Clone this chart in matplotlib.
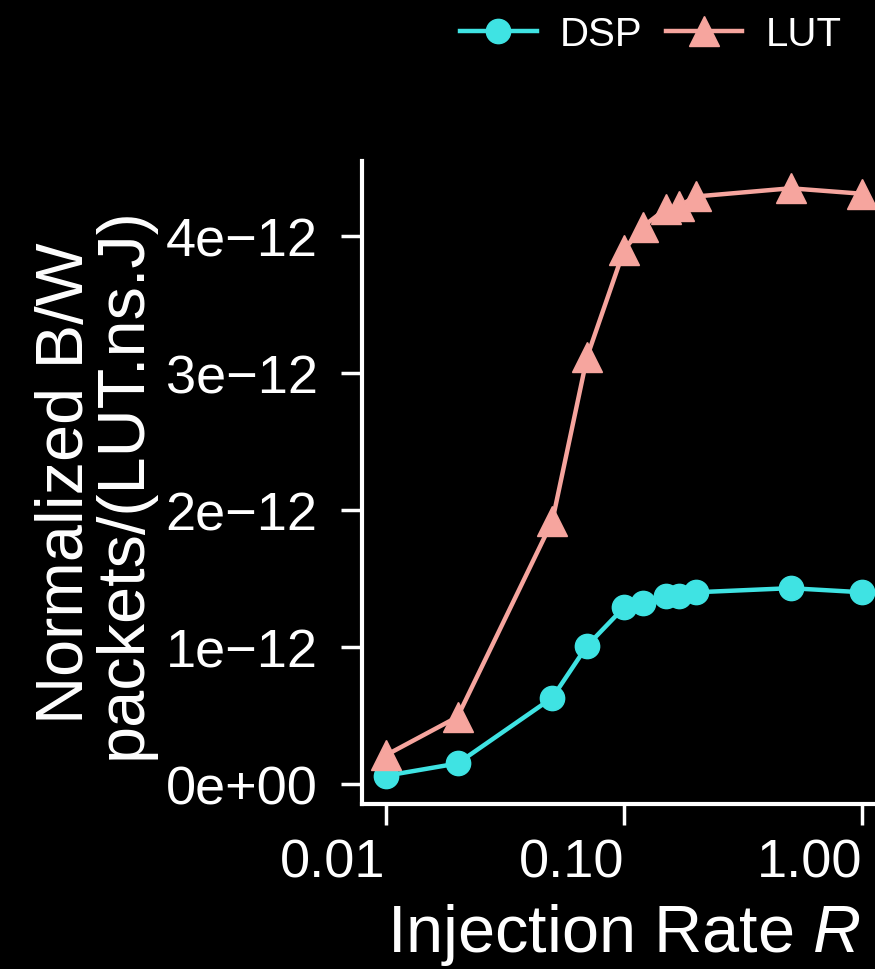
import matplotlib.pyplot as plt
import numpy as np

plt.rcParams['font.family'] = ['Liberation Sans', 'DejaVu Sans']
plt.rcParams['mathtext.fontset'] = 'custom'
plt.rcParams['mathtext.it'] = 'Liberation Sans:italic'
plt.rcParams['mathtext.rm'] = 'Liberation Sans'

# data
rate = [0.01, 0.02, 0.05, 0.07, 0.10, 0.12, 0.15, 0.17, 0.20, 0.50, 1.00]
dsp = [0.06, 0.15, 0.63, 1.01, 1.29, 1.32, 1.37, 1.37, 1.40, 1.43, 1.40]
lut = [0.21, 0.49, 1.92, 3.12, 3.90, 4.07, 4.20, 4.22, 4.29, 4.35, 4.31]
series = ['DSP', 'LUT']
x_ticks = [0.01, 0.1, 1.0]
x_ticklabels = ['0.01', '0.10', '1.00']
y_ticks = [0, 1e-12, 2e-12, 3e-12, 4e-12]
y_ticklabels = ['0e+00', '1e\u221212', '2e\u221212', '3e\u221212', '4e\u221212']

dsp_col = '#3FE3E3'
lut_col = '#F6A59E'

fig = plt.figure(figsize=(8.75, 9.7), dpi=100, facecolor='black')
ax = fig.add_axes([0.4137, 0.1701, 0.599, 0.663], facecolor='black')

ax.plot(rate, np.array(dsp) * 1e-12, color=dsp_col, marker='o', markersize=17.5,
        linewidth=3.2, label=series[0], zorder=3)
ax.plot(rate, np.array(lut) * 1e-12, color=lut_col, marker='^', markersize=21,
        linewidth=3.2, label=series[1], zorder=3)

ax.set_xscale('log')
ax.set_xlim(10 ** -2.1, 10 ** 0.1)
ax.set_ylim(-0.146e-12, 4.55e-12)
ax.set_xticks(x_ticks)
ax.set_xticklabels(x_ticklabels)
ax.xaxis.set_minor_locator(plt.NullLocator())
ax.set_yticks(y_ticks)
ax.set_yticklabels(y_ticklabels)

for side in ['top', 'right']:
    ax.spines[side].set_visible(False)
for side in ['left', 'bottom']:
    ax.spines[side].set_color('white')
    ax.spines[side].set_linewidth(3)

ax.tick_params(axis='both', colors='white', labelcolor='white', length=15,
               width=2.5, labelsize=39)
ax.tick_params(axis='x', pad=9)
ax.tick_params(axis='y', pad=17)
# x tick labels sit to the left of their ticks in the reference
for lbl in ax.get_xticklabels():
    lbl.set_ha('right')

ax.set_xlabel('Injection Rate $\\it{R}$', color='white', fontsize=48, labelpad=10)
ax.set_ylabel('Normalized B/W\npackets/(LUT.ns.J)', color='white', fontsize=48,
              labelpad=8, linespacing=0.91)

leg = fig.legend(loc='upper right', bbox_to_anchor=(0.962, 0.983), ncol=2,
                 frameon=False, fontsize=29, handlelength=1.9,
                 handletextpad=0.58, columnspacing=0.58, markerscale=1.0,
                 borderpad=0, borderaxespad=0)
for t in leg.get_texts():
    t.set_color('white')

fig.savefig('out.png', dpi=100, facecolor='black')
